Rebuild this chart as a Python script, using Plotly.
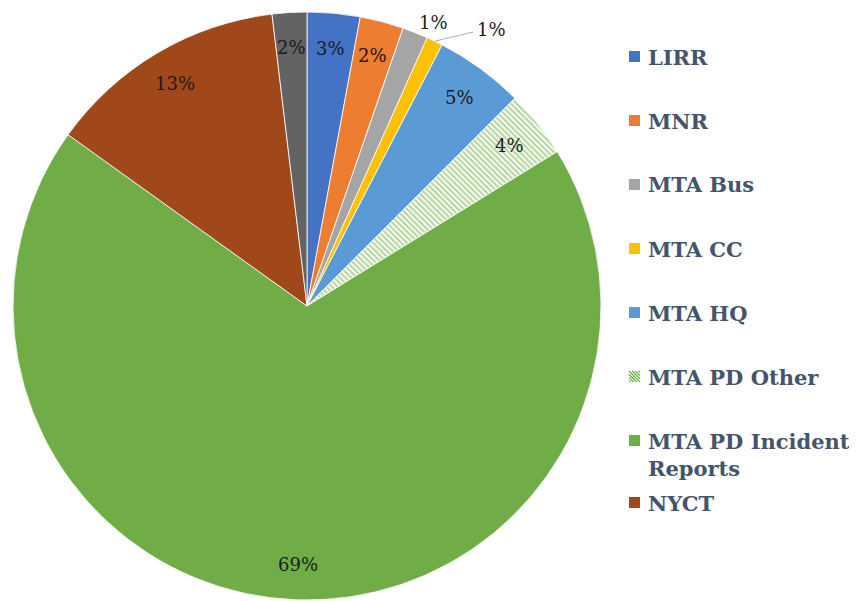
import math
import plotly.graph_objects as go

# ---- data ----
labels = ["LIRR", "MNR", "MTA Bus", "MTA CC", "MTA HQ", "MTA PD Other",
          "MTA PD Incident Reports", "NYCT", "Other"]
values = [2.9, 2.4, 1.4, 0.9, 4.9, 3.7, 68.7, 13.2, 1.9]
pct_text = ["3%", "2%", "1%", "1%", "5%", "4%", "69%", "13%", "2%"]
legend_labels = ["LIRR", "MNR", "MTA Bus", "MTA CC", "MTA HQ", "MTA PD Other",
                 "MTA PD Incident<br>Reports", "NYCT"]

# ---- styles ----
colors = ["#4472C4", "#ED7D31", "#A5A5A5", "#FFC000", "#5B9BD5", "white",
          "#70AD47", "#A0481A", "#636363"]
shapes_pat = ["", "", "", "", "", "\\", "", "", ""]
label_mode = ["in", "in", "out", "lead", "in", "in", "in", "in", "in"]

W, H = 857, 601
OFF = 8  # page body margin
px0, px1, py0, py1 = 10, 604, 12, 600
cx = (px0 + px1) / 2
cy = (py0 + py1) / 2
R = min(px1 - px0, py1 - py0) / 2

FONT = "Georgia, 'DejaVu Serif', serif"


def to_paper(x, y):
    return (x - OFF) / W, 1 - (y - OFF) / H


fig = go.Figure()
dx0, dy1 = to_paper(px0, py1)
dx1, dy0 = to_paper(px1, py0)
fig.add_trace(go.Pie(
    labels=labels, values=values, sort=False, direction="clockwise",
    rotation=0, textinfo="none", showlegend=False, hoverinfo="label+percent",
    marker=dict(colors=colors, line=dict(color="white", width=0.8),
                pattern=dict(shape=shapes_pat, fgcolor="#70AD47",
                             fillmode="overlay", size=4, solidity=0.55)),
    domain=dict(x=[dx0, dx1], y=[dy1, dy0]),
))

annotations = []
shapes = []
total = sum(values)
cum = 0.0
for v, t, mode in zip(values, pct_text, label_mode):
    mid = (cum + v / 2) / total * 2 * math.pi
    cum += v
    if mode == "in":
        k, da = 0.88, 0.0
    elif mode == "out":
        k, da = 1.055, math.radians(2.5)
    else:
        k, da = 1.12, math.radians(7)
    a = mid + da
    x = cx + k * R * math.sin(a)
    y = cy - k * R * math.cos(a)
    if mode == "lead":
        x0 = cx + 1.0 * R * math.sin(mid)
        y0 = cy - 1.0 * R * math.cos(mid)
        x1 = x - 12
        y1 = y + 3
        xa, ya = to_paper(x0, y0)
        xb, yb = to_paper(x1, y1)
        shapes.append(dict(type="line", xref="paper", yref="paper",
                           x0=xa, y0=ya, x1=xb, y1=yb,
                           line=dict(color="#9FB3C8", width=1)))
        x += 6
    xp, yp = to_paper(x, y)
    annotations.append(dict(x=xp, y=yp, xref="paper", yref="paper", text=t,
                            showarrow=False, xanchor="center", yanchor="middle",
                            font=dict(family=FONT, size=18, color="#1a1a1a")))

# ---- legend (manual, 8 entries) ----
leg_colors = colors[:8]
row_y = [57, 121, 185, 249, 313, 377, 441, 503]
for i, (lab, col) in enumerate(zip(legend_labels, leg_colors)):
    yc = row_y[i]
    sx0, sx1 = 629, 640
    sy0, sy1 = yc - 6, yc + 5
    a0x, a0y = to_paper(sx0, sy0)
    a1x, a1y = to_paper(sx1, sy1)
    if shapes_pat[i]:
        for j in range(4):
            o = j * 3.2
            lx0, ly0 = to_paper(sx0 + o, sy0)
            lx1, ly1 = to_paper(sx1, sy1 - o)
            shapes.append(dict(type="line", xref="paper", yref="paper",
                               x0=lx0, y0=ly0, x1=lx1, y1=ly1,
                               line=dict(color="#70AD47", width=1.3)))
            if j:
                lx0, ly0 = to_paper(sx0, sy0 + o)
                lx1, ly1 = to_paper(sx1 - o, sy1)
                shapes.append(dict(type="line", xref="paper", yref="paper",
                                   x0=lx0, y0=ly0, x1=lx1, y1=ly1,
                                   line=dict(color="#70AD47", width=1.3)))
    else:
        shapes.append(dict(type="rect", xref="paper", yref="paper",
                           x0=a0x, y0=a0y, x1=a1x, y1=a1y,
                           fillcolor=col, line=dict(width=0)))
    tx, ty = to_paper(646, yc)
    nlines = lab.count("<br>") + 1
    annotations.append(dict(x=tx, y=ty, xref="paper", yref="paper",
                            text="<b>" + lab + "</b>", showarrow=False,
                            xanchor="left", yanchor="top" if nlines > 1 else "middle",
                            yshift=14 if nlines > 1 else 0, align="left",
                            font=dict(family=FONT, size=21, color="#44546A")))

fig.update_layout(
    width=W, height=H, margin=dict(l=0, r=0, t=0, b=0),
    paper_bgcolor="white", plot_bgcolor="white",
    annotations=annotations, shapes=shapes, showlegend=False,
    font=dict(family=FONT),
)

fig.write_html("out.html")
